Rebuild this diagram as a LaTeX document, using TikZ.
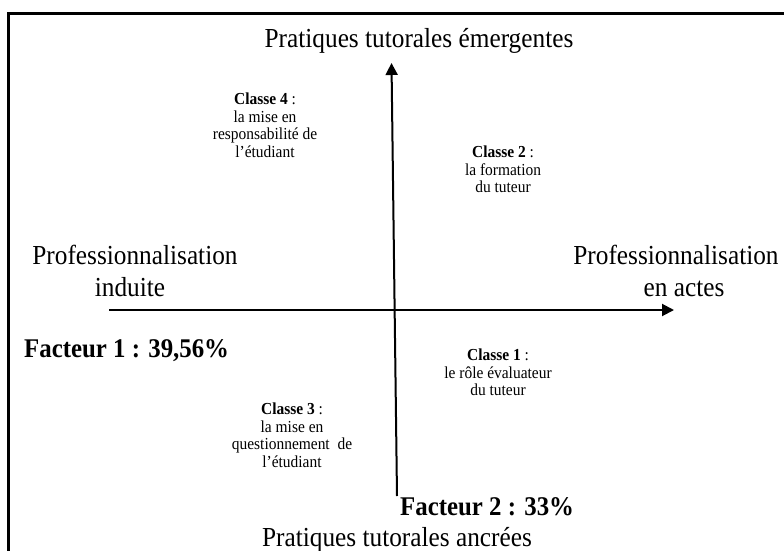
\documentclass[tikz,border=0pt]{standalone}
\usepackage{fontspec}
\setmainfont{Liberation Serif}[FakeStretch=0.92]
\usetikzlibrary{arrows.meta}
\begin{document}
\begin{tikzpicture}[x=1pt,y=-1pt,
  axis/.style={line width=2pt,-{Triangle[length=12pt,width=12pt]}},
  big/.style={font=\fontsize{27.5}{30}\selectfont,inner sep=0pt},
  fact/.style={font=\fontsize{27}{30}\selectfont\bfseries,inner sep=0pt},
  cls/.style={font=\fontsize{16.8}{17.5}\selectfont,align=center,inner sep=0pt,anchor=north}]
\useasboundingbox (0,0) rectangle (784,551);
\draw[line width=3pt] (8,14) rectangle (830,620);
% axes
\coordinate (vbot) at (397,496);
\coordinate (vtop) at (391.5,63);
\coordinate (hleft) at (109,310);
\coordinate (hright) at (674,310);
\draw[axis] (vbot) -- (vtop);
\draw[axis] (hleft) -- (hright);
% titles
\node[big,anchor=base] (top) at (419,48) {Pratiques tutorales émergentes};
\node[big,anchor=base] (bottom) at (397,546) {Pratiques tutorales ancrées};
\node[big,anchor=base] (lp) at (135,264) {Professionnalisation};
\node[big,anchor=base] (li) at (130,296) {induite};
\node[big,anchor=base] (rp) at (676,264) {Professionnalisation};
\node[big,anchor=base] (ri) at (684,296) {en actes};
\node[fact,anchor=base west] (f1) at (24,357) {Facteur 1 : 39,56\%};
\node[fact,anchor=base west] (f2) at (400,515) {Facteur 2 : 33\%};
% classes
\node[cls] (c4) at (265,93) {\textbf{Classe 4} :\\la mise en\\responsabilité de\\l’étudiant};
\node[cls] (c2) at (503,146) {\textbf{Classe 2} :\\la formation\\du tuteur};
\node[cls] (c1) at (498,349) {\textbf{Classe 1} :\\le rôle évaluateur\\du tuteur};
\node[cls] (c3) at (292,403) {\textbf{Classe 3} :\\la mise en\\questionnement~~de\\l’étudiant};
\end{tikzpicture}
\end{document}
